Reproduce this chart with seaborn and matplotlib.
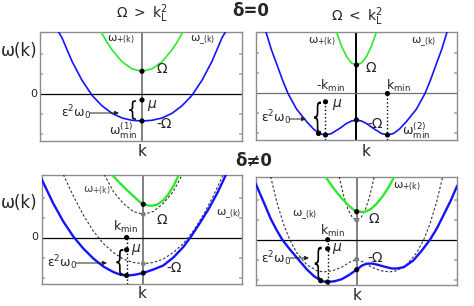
import matplotlib
matplotlib.use("Agg")
import seaborn as sns
import matplotlib.pyplot as plt
from matplotlib.textpath import TextPath
from matplotlib.patches import PathPatch
from matplotlib.transforms import Affine2D
from matplotlib.font_manager import FontProperties

# ---- data (k in units of ~10 px, omega in units of ~10 px) ----
# top-left: delta = 0, Omega > kL^2
tl_k_minus = [-8.35, -8.0, -7.0, -6.0, -5.0, -4.0, -3.0, -2.0, -1.0, 0.0, 1.0, 2.0, 3.0, 4.0, 5.0, 6.0, 7.0, 8.0, 8.35]
tl_w_minus = [6.25, 5.65, 3.3, 1.4, -0.1, -1.15, -1.9, -2.37, -2.6, -2.67, -2.6, -2.37, -1.9, -1.15, -0.1, 1.4, 3.3, 5.65, 6.25]
tl_k_plus = [-4.1, -3.5, -3.0, -2.0, -1.0, 0.0, 1.0, 2.0, 3.0, 3.5, 4.1]
tl_w_plus = [6.25, 5.2, 4.45, 3.25, 2.55, 2.3, 2.55, 3.25, 4.45, 5.2, 6.25]
tl_dots_k = [0.0, 0.0, 0.0]
tl_dots_w = [2.3, -0.57, -2.67]

# top-right: delta = 0, Omega < kL^2
tr_k_minus = [-9.1, -8.5, -8.0, -7.4, -6.85, -6.0, -5.0, -4.3, -3.7, -3.1, -2.5, -1.7, -1.0, -0.5, 0.0,
              0.5, 1.0, 1.7, 2.5, 3.1, 3.7, 4.3, 5.0, 6.0, 6.85, 7.4, 8.0, 8.5, 9.1]
tr_w_minus = [6.3, 4.35, 3.0, 1.35, 0.0, -1.55, -2.8, -3.55, -4.0, -4.15, -4.0, -3.5, -3.0, -2.75, -2.65,
              -2.75, -3.0, -3.5, -4.0, -4.15, -4.0, -3.55, -2.8, -1.55, 0.0, 1.35, 3.0, 4.35, 6.3]
tr_k_plus = [-2.05, -1.5, -1.0, -0.5, 0.0, 0.5, 1.0, 1.5, 2.05]
tr_w_plus = [6.3, 4.75, 3.7, 3.05, 2.85, 3.05, 3.7, 4.75, 6.3]
tr_kmin = 3.1
tr_dots_k = [0.0, 0.0, -3.1, 3.1, -3.1, 3.1, -3.8]
tr_dots_w = [2.85, -2.65, -4.15, -4.15, -0.83, 0.0, -4.0]

# bottom-left: delta != 0, Omega > kL^2
bl_k_minus = [-10.2, -9.0, -8.0, -7.0, -6.0, -5.0, -4.0, -3.0, -2.3, -1.67, -1.0, 0.0, 1.0, 2.0,
              3.0, 4.0, 4.7, 5.5, 6.5, 7.4, 8.3]
bl_w_minus = [5.9, 3.4, 1.6, 0.1, -1.1, -2.1, -2.9, -3.45, -3.72, -3.8, -3.75, -3.55, -3.2, -2.8,
              -2.0, -0.95, 0.0, 1.2, 2.8, 4.45, 6.35]
bl_k_plus = [-3.1, -2.4, -1.7, -1.0, -0.4, 0.0, 0.5, 0.9, 1.4, 2.0, 2.5, 3.0, 3.5]
bl_w_plus = [6.25, 5.5, 4.8, 4.15, 3.6, 3.32, 3.2, 3.18, 3.29, 3.71, 4.31, 5.12, 6.15]
bl_k_ref_minus = [-8.0, -7.0, -6.0, -5.0, -4.0, -3.0, -2.0, -1.0, 0.0, 1.0, 2.0, 3.0, 4.0, 5.0, 6.0, 7.0, 8.0]
bl_w_ref_minus = [6.3, 4.15, 2.25, 0.65, -0.6, -1.5, -2.15, -2.5, -2.62, -2.5, -2.15, -1.5, -0.6, 0.65, 2.25, 4.15, 6.3]
bl_k_ref_plus = [-3.9, -3.0, -2.0, -1.0, 0.0, 1.0, 2.0, 3.0, 3.9]
bl_w_ref_plus = [6.3, 4.6, 3.4, 2.6, 2.32, 2.6, 3.4, 4.6, 6.3]
bl_kmin = -1.67
bl_dots_k = [0.0, 0.0, -1.67, -1.67, -1.67]
bl_dots_w = [3.32, -3.55, 0.0, -1.23, -3.8]
bl_ref_dots_k = [0.0, 0.0]
bl_ref_dots_w = [2.32, -2.62]

# bottom-right: delta != 0, Omega < kL^2
br_k_minus = [-10.1, -9.3, -8.6, -8.0, -7.44, -6.7, -5.94, -5.0, -4.27, -3.5, -2.9, -2.2, -1.5, -0.8, 0.0,
              0.5, 1.0, 1.5, 2.0, 2.67, 3.5, 4.0, 4.7, 5.67, 6.5, 7.33, 8.0, 8.67, 9.4, 10.05]
br_w_minus = [5.6, 3.75, 2.1, 0.95, 0.0, -0.95, -1.85, -2.95, -3.65, -4.15, -4.23, -4.15, -3.95, -3.55, -3.0,
              -2.6, -2.4, -2.38, -2.48, -2.67, -2.88, -2.88, -2.75, -2.07, -1.1, 0.0, 1.1, 2.43, 3.9, 5.4]
br_k_plus = [-3.1, -2.4, -1.6, -0.9, -0.3, 0.2, 0.8, 1.4, 2.0, 2.6, 3.2, 3.7]
br_w_plus = [6.27, 5.25, 4.25, 3.5, 2.98, 2.8, 2.77, 3.05, 3.6, 4.35, 5.25, 6.2]
br_k_ref_minus = [-8.6, -8.0, -7.3, -6.7, -6.0, -5.0, -4.0, -3.3, -2.4, -1.5, -0.7, 0.0,
                  0.7, 1.5, 2.4, 3.3, 4.0, 5.0, 6.0, 6.7, 7.3, 8.0, 8.6]
br_w_ref_minus = [6.3, 3.8, 1.5, 0.0, -1.3, -2.5, -3.1, -3.22, -3.1, -2.75, -2.25, -1.96,
                  -2.25, -2.75, -3.1, -3.22, -3.1, -2.5, -1.3, 0.0, 1.5, 3.8, 6.3]
br_k_ref_plus = [-1.75, -1.3, -0.9, -0.45, 0.0, 0.45, 0.9, 1.3, 1.75]
br_w_ref_plus = [6.3, 4.35, 3.1, 2.24, 1.95, 2.24, 3.1, 4.35, 6.3]
br_kmin = -2.9
br_dots_k = [0.0, 0.0, -2.9, -2.9, -2.9, -3.6]
br_dots_w = [2.8, -3.0, 0.0, -0.9, -4.23, -4.1]
br_ref_dots_k = [0.0, 0.0]
br_ref_dots_w = [1.95, -1.96]

BLUE = "#1414ff"
GREEN = "#2ee82e"
GREY = "#808080"

sns.set_theme(style="white")
plt.rcParams["font.family"] = ["DejaVu Sans"]
plt.rcParams["mathtext.fontset"] = "dejavusans"
plt.rcParams["mathtext.default"] = "regular"

W, H = 474, 306
fig = plt.figure(figsize=(W / 100, H / 100), dpi=100)


def make_axes(l, t, r, b, xlim, ylim, vcolor=GREY, hcolor="black"):
    ax = fig.add_axes([l / W, 1 - b / H, (r - l) / W, (b - t) / H])
    ax.set_xlim(xlim)
    ax.set_ylim(ylim)
    ax.set_xticks([])
    ax.set_yticks([-4, -2, 2, 4])
    ax.tick_params(axis="y", direction="in", length=2.5, color="#b0b0b0",
                   left=True, right=True, labelleft=False)
    for s in ax.spines.values():
        s.set_color("#8c8c8c")
        s.set_linewidth(1.0)
    ax.axvline(0, color=vcolor, lw=1.4, zorder=1)
    ax.axhline(0, color=hcolor, lw=0.9, zorder=1)
    return ax


def curve(ax, k, w, color, lw, ls="-"):
    sns.lineplot(x=k, y=w, ax=ax, sort=False, estimator=None, color=color,
                 lw=lw, linestyle=ls, zorder=3)


def dots(ax, k, w, color="black", s=14):
    sns.scatterplot(x=k, y=w, ax=ax, color=color, s=s, edgecolor="none",
                    zorder=6, legend=False)


def brace(ax, x, y0, y1, width=0.7):
    tp = TextPath((0, 0), "{", size=1, prop=FontProperties(family="DejaVu Sans"))
    ext = tp.get_extents()
    tr = (Affine2D().translate(-ext.x0, -ext.y0)
          .scale(width / ext.width, (y1 - y0) / ext.height)
          .translate(x - width / 2, y0))
    ax.add_patch(PathPatch(tr.transform_path(tp), color="black", lw=0, zorder=6))


def label(x, y, s, size=10, **kw):
    fig.text(x / W, 1 - y / H, s, ha="center", va="center", fontsize=size, **kw)


def arrow(x0, x1, y):
    fig.add_artist(plt.Annotation("", xy=(x1, H - y), xytext=(x0, H - y),
                                  xycoords="figure pixels", textcoords="figure pixels",
                                  arrowprops=dict(arrowstyle="-|>", color="#222222",
                                                  lw=0.7, mutation_scale=6,
                                                  shrinkA=0, shrinkB=0)))


DASH = (0, (2.2, 1.8))

# ---------------- top-left ----------------
ax = make_axes(40, 32, 242, 141, (-10.2, 10.0), (-4.67, 6.23))
curve(ax, tl_k_minus, tl_w_minus, BLUE, 1.2)
curve(ax, tl_k_plus, tl_w_plus, GREEN, 1.2)
dots(ax, tl_dots_k, tl_dots_w)
brace(ax, -0.95, -2.55, -0.6, 0.7)

# ---------------- top-right ----------------
ax = make_axes(256, 32, 457, 140, (-10.05, 10.05), (-4.65, 6.15), vcolor="black", hcolor="#707070")
curve(ax, tr_k_minus, tr_w_minus, BLUE, 1.2)
curve(ax, tr_k_plus, tr_w_plus, GREEN, 1.2)
ax.vlines([-tr_kmin, tr_kmin], [-4.65, -4.65], [-0.83, 0.0], colors="black",
          linestyles=":", lw=1.0, zorder=4)
dots(ax, tr_dots_k, tr_dots_w)
brace(ax, -3.9, -4.0, -0.8, 0.7)

# ---------------- bottom-left ----------------
ax = make_axes(42, 175, 242, 284, (-10.13, 9.87), (-4.65, 6.25))
curve(ax, bl_k_ref_minus, bl_w_ref_minus, "#333333", 0.8, DASH)
curve(ax, bl_k_ref_plus, bl_w_ref_plus, "#333333", 0.8, DASH)
curve(ax, bl_k_minus, bl_w_minus, BLUE, 1.7)
curve(ax, bl_k_plus, bl_w_plus, GREEN, 1.7)
ax.vlines([bl_kmin], [-4.65], [0.0], colors="black", linestyles=":", lw=1.0, zorder=4)
dots(ax, bl_ref_dots_k, bl_ref_dots_w, color=GREY, s=12)
dots(ax, bl_dots_k, bl_dots_w)
brace(ax, -2.35, -3.8, -1.15, 0.7)

# ---------------- bottom-right ----------------
ax = make_axes(256, 177, 457, 284.5, (-10.07, 10.03), (-4.48, 6.27))
curve(ax, br_k_ref_minus, br_w_ref_minus, "#333333", 0.8, DASH)
curve(ax, br_k_ref_plus, br_w_ref_plus, "#333333", 0.8, DASH)
curve(ax, br_k_minus, br_w_minus, BLUE, 1.7)
curve(ax, br_k_plus, br_w_plus, GREEN, 1.7)
ax.vlines([br_kmin], [-4.48], [0.0], colors="black", linestyles=":", lw=1.0, zorder=4)
dots(ax, br_ref_dots_k, br_ref_dots_w, color=GREY, s=12)
dots(ax, br_dots_k, br_dots_w)
brace(ax, -3.85, -4.1, -0.7, 0.7)

# ---------------- texts ----------------
label(251, 11, "δ=0", size=12, fontweight="bold")
label(254, 161, "δ≠0", size=12, fontweight="bold")
label(142, 14, r"$\Omega\ >\ k_{L}^{2}$", size=10)
label(357, 17, r"$\Omega\ <\ k_{L}^{2}$", size=10)
label(19, 51, "ω(k)", size=12)
label(19, 203, "ω(k)", size=12)
label(34, 94, "0", size=8)
label(35, 237, "0", size=8)
label(142.5, 152, "k", size=11)
label(366, 152, "k", size=11)
label(142.5, 294, "k", size=11)
label(357, 296, "k", size=11)

# top-left
label(121, 40, r"$\omega_{+(k)}$", size=8)
label(203, 40, r"$\omega_{\_(k)}$", size=8)
label(162, 69, "Ω", size=10)
label(152, 104, "μ", size=10, style="italic")
label(164, 124, "-Ω", size=10)
label(76, 113, r"$\varepsilon^{2}\omega_{0}$", size=9)
arrow(90, 119, 113)
label(123, 131, r"$\omega_{min}^{(1)}$", size=9)

# top-right
label(322, 42, r"$\omega_{+(k)}$", size=8)
label(424, 42, r"$\omega_{\_(k)}$", size=8)
label(371, 68, "Ω", size=10)
label(331, 86, "-" + r"$k_{min}$", size=9)
label(399, 86, r"$k_{min}$", size=9)
label(337, 103, "μ", size=10, style="italic")
label(375, 124, "-Ω", size=10)
label(276, 118, r"$\varepsilon^{2}\omega_{0}$", size=9)
arrow(289, 306, 119)
label(416, 131, r"$\omega_{min}^{(2)}$", size=9)

# bottom-left
label(97, 191, r"$\omega_{+(k)}$", size=8, color="#444444")
label(229, 214, r"$\omega_{\_(k)}$", size=8)
label(162, 220, "Ω", size=10)
label(126, 227, r"$k_{min}$", size=9)
label(136, 248, "μ", size=10, style="italic")
label(174, 268, "-Ω", size=10)
label(62, 263, r"$\varepsilon^{2}\omega_{0}$", size=9)
arrow(76, 107, 263)

# bottom-right
label(407, 187, r"$\omega_{+(k)}$", size=8)
label(305, 215, r"$\omega_{\_(k)}$", size=8)
label(374, 219, "Ω", size=10)
label(333, 231, r"$k_{min}$", size=9)
label(337, 247, "μ", size=10, style="italic")
label(375, 258, "-Ω", size=10)
label(276, 259, r"$\varepsilon^{2}\omega_{0}$", size=9)
arrow(290, 309, 258)

fig.savefig("out.png", dpi=100)
